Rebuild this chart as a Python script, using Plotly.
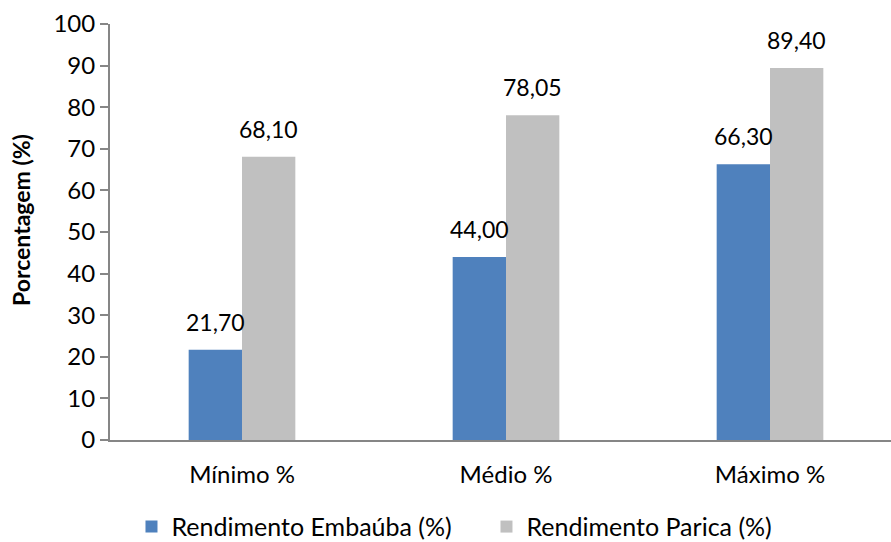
import plotly.graph_objects as go

categories = ["Mínimo %", "Médio %", "Máximo %"]
embauba = [21.70, 44.00, 66.30]
parica = [68.10, 78.05, 89.40]
series_names = ["Rendimento Embaúba (%)", "Rendimento Parica (%)"]
y_ticks = [0, 10, 20, 30, 40, 50, 60, 70, 80, 90, 100]

FONT = "Lato"
BARGAP = 0.596
PLOT_W = 891 - 110
CAT_PX = 264  # pixels per category slot (plot area runs slightly past the page edge)
X_RANGE = [-0.5, -0.5 + PLOT_W / CAT_PX]

fig = go.Figure()
for vals, name, color in [(embauba, series_names[0], "#4F81BD"),
                          (parica, series_names[1], "#C0C0C0")]:
    fig.add_trace(go.Bar(
        x=categories, y=vals, name=name,
        marker=dict(color=color, line=dict(width=0)),
        cliponaxis=False,
    ))

# data labels above each bar, placed through the category axis
bar_px = CAT_PX * (1 - BARGAP) / 2
annotations = []
for vals, sign in [(embauba, -1), (parica, 1)]:
    for cat, v in zip(categories, vals):
        annotations.append(dict(
            x=cat, y=v, xref="x", yref="y",
            text=f"{v:.2f}".replace(".", ","),
            showarrow=False, yanchor="bottom", xanchor="center",
            xshift=sign * bar_px / 2, yshift=12,
            font=dict(family=FONT, size=23, color="#000000"),
        ))
annotations.append(dict(
    text="<b>Porcentagem (%)</b>", textangle=-90,
    xref="paper", yref="paper", x=(21 - 110) / PLOT_W, y=(440 - 220) / 416,
    xanchor="center", yanchor="middle", showarrow=False,
    font=dict(family=FONT, size=23, color="#000000"),
))

fig.update_layout(
    width=891, height=542,
    margin=dict(l=110, r=0, t=24, b=102),
    paper_bgcolor="white", plot_bgcolor="white",
    separators=",.",
    barmode="group", bargap=BARGAP, bargroupgap=0,
    font=dict(family=FONT, size=24, color="#000000"),
    showlegend=True,
    legend=dict(
        orientation="h", xref="container", yref="container",
        x=0.546, xanchor="center", y=0.028, yanchor="middle",
        font=dict(family=FONT, size=25), itemwidth=30,
        entrywidth=310, traceorder="normal",
    ),
    annotations=annotations,
    xaxis=dict(
        range=X_RANGE,
        showline=True, linecolor="#868686", linewidth=2,
        ticks="", showgrid=False, ticklabelstandoff=12,
        tickfont=dict(family=FONT, size=24),
    ),
    yaxis=dict(
        range=[0, 100], tickvals=y_ticks,
        showline=True, linecolor="#868686", linewidth=2,
        ticks="outside", ticklen=8, tickcolor="#868686", tickwidth=2,
        showgrid=False, zeroline=False,
        tickfont=dict(family=FONT, size=24),
    ),
)

fig.write_html("out.html")
